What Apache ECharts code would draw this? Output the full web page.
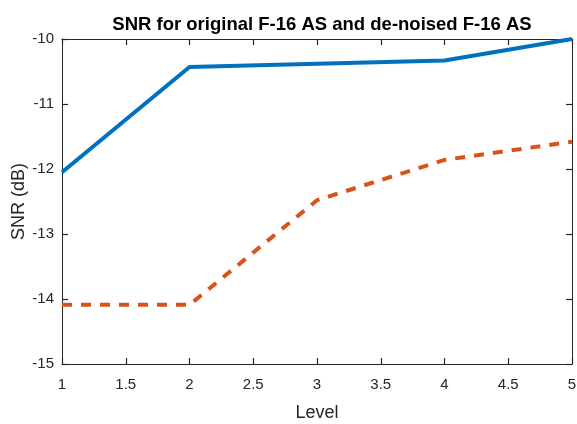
<!DOCTYPE html>
<html>
<head>
<meta charset="utf-8">
<script src="https://cdn.jsdelivr.net/npm/echarts@6/dist/echarts.min.js"></script>
<style>html,body{margin:0;padding:0;background:#fff}#c{width:577px;height:424px}</style>
</head>
<body>
<div id="c"></div>
<script>
const levels = [1, 2, 3, 4, 5];
const originalSNR = [-12.05, -10.43, -10.38, -10.33, -10.0];
const denoisedSNR = [-14.09, -14.09, -12.48, -11.86, -11.58];
const xTicks = [1, 1.5, 2, 2.5, 3, 3.5, 4, 4.5, 5];
const yTicks = [-15, -14, -13, -12, -11, -10];

const font = 'Liberation Sans, Arial, Helvetica, sans-serif';
const axisColor = '#262626';
const chart = echarts.init(document.getElementById('c'));
function tick() {
  return {show: true, inside: true, length: 6, lineStyle: {color: axisColor, width: 1.2}};
}
function line() {
  return {show: true, onZero: false, lineStyle: {color: axisColor, width: 1}};
}
chart.setOption({
  animation: false,
  backgroundColor: '#fff',
  title: {
    text: 'SNR for original F-16 AS and de-noised F-16 AS',
    left: 317, top: 10, textAlign: 'center',
    textStyle: {fontFamily: font, fontSize: 18.5, fontWeight: 'bold', color: '#000'}
  },
  grid: {left: 62, top: 39, right: 5, bottom: 60, containLabel: false, outerBoundsMode: 'none'},
  xAxis: [
    {
      type: 'value', min: 1, max: 5, interval: 0.5, position: 'bottom',
      axisLine: line(), axisTick: tick(), splitLine: {show: false},
      name: 'Level', nameLocation: 'middle', nameGap: 40, nameMoveOverlap: false,
      nameTextStyle: {fontFamily: font, fontSize: 18, color: axisColor},
      axisLabel: {fontFamily: font, fontSize: 15, color: axisColor, margin: 13,
        formatter: v => xTicks.includes(v) ? String(v) : ''}
    },
    {
      type: 'value', min: 1, max: 5, interval: 0.5, position: 'top',
      axisLine: line(), axisTick: tick(), splitLine: {show: false},
      axisLabel: {show: false}
    }
  ],
  yAxis: [
    {
      type: 'value', min: -15, max: -10, interval: 1, position: 'left',
      axisLine: line(), axisTick: tick(), splitLine: {show: false},
      name: 'SNR (dB)', nameLocation: 'middle', nameGap: 34, nameRotate: 90, nameMoveOverlap: false,
      nameTextStyle: {fontFamily: font, fontSize: 18, color: axisColor},
      axisLabel: {fontFamily: font, fontSize: 15, color: axisColor, margin: 8,
        formatter: v => yTicks.includes(v) ? String(v) : ''}
    },
    {
      type: 'value', min: -15, max: -10, interval: 1, position: 'right',
      axisLine: line(), axisTick: tick(), splitLine: {show: false},
      axisLabel: {show: false}
    }
  ],
  series: [
    {
      name: 'original', type: 'line', xAxisIndex: 0, yAxisIndex: 0,
      data: levels.map((x, i) => [x, originalSNR[i]]),
      showSymbol: false, symbol: 'none',
      lineStyle: {color: '#0072BD', width: 4},
      z: 3
    },
    {
      name: 'denoised', type: 'line', xAxisIndex: 0, yAxisIndex: 0,
      data: levels.map((x, i) => [x, denoisedSNR[i]]),
      showSymbol: false, symbol: 'none',
      lineStyle: {color: '#D95319', width: 4, type: [10, 9]},
      z: 3
    }
  ]
});
</script>
</body>
</html>
